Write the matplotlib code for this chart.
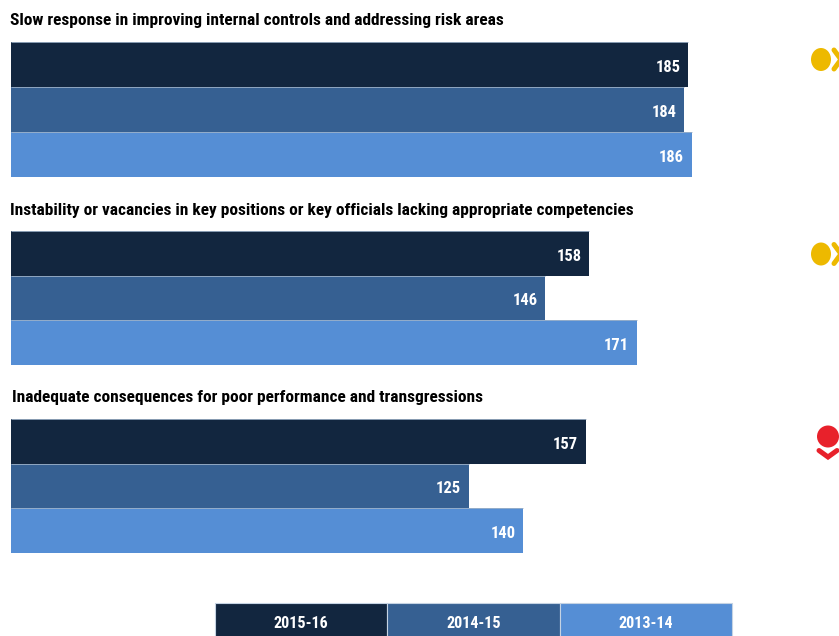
import matplotlib
matplotlib.use("Agg")
import matplotlib.pyplot as plt
from matplotlib.patches import Circle, Ellipse, Rectangle

W, H = 839, 636

years = ["2015-16", "2014-15", "2013-14"]
colors = ["#12263F", "#366092", "#558ED5"]
titles = [
    "Slow response in improving internal controls and addressing risk areas",
    "Instability or vacancies in key positions or key officials lacking appropriate competencies",
    "Inadequate consequences for poor performance and transgressions",
]
values_a = [185, 184, 186]
values_b = [158, 146, 171]
values_c = [157, 125, 140]

plt.rcParams["font.family"] = ["Roboto Condensed", "DejaVu Sans"]

fig = plt.figure(figsize=(W / 100, H / 100), dpi=100, facecolor="white")


def px_axes(x0, y0, x1, y1):
    return fig.add_axes([x0 / W, 1 - y1 / H, (x1 - x0) / W, (y1 - y0) / H])


def bar_panel(y0, y1, values):
    ax = px_axes(11, y0, 839, y1)
    ax.set_xlim(0, 828 / 3.66)
    ax.set_ylim(2.5, -0.5)
    ax.axis("off")
    ax.barh(range(3), values, height=1.0, color=colors, linewidth=0)
    # thin pale rule along the top of each bar
    for i, v in enumerate(values):
        ax.hlines(i - 0.5, 0, v, color="#9fb2c8", lw=0.6, clip_on=False)
        ax.annotate(str(v), (v, i + 0.03), xytext=(-5.5, 0), textcoords="offset points",
                    ha="right", va="center_baseline", color="white",
                    fontsize=11.9, fontweight="bold")


bar_panel(42, 177, values_a)
bar_panel(231, 365, values_b)
bar_panel(419, 553, values_c)

fig.text(10 / W, 1 - 25 / H, titles[0], fontsize=12.55, fontweight="bold")
fig.text(10 / W, 1 - 215 / H, titles[1], fontsize=12.55, fontweight="bold")
fig.text(12 / W, 1 - 402 / H, titles[2], fontsize=12.55, fontweight="bold")

# overlay in pixel coordinates for the status icons and the year key
ov = fig.add_axes([0, 0, 1, 1], facecolor="none")
ov.set_xlim(0, W)
ov.set_ylim(H, 0)
ov.axis("off")

YELLOW, RED = "#EDB900", "#E8212B"
for cy in (59.5, 254):
    ov.add_patch(Ellipse((821, cy), 20, 23, color=YELLOW, lw=0))
    ov.plot([834, 841, 834], [cy - 9.5, cy, cy + 9.5], color=YELLOW, lw=3.6,
            solid_capstyle="round", solid_joinstyle="miter")
ov.add_patch(Circle((828, 436.5), 11, color=RED, lw=0))
ov.plot([819, 828, 837], [450.5, 457, 450.5], color=RED, lw=3.6,
        solid_capstyle="round", solid_joinstyle="miter")

key_edges = [215, 387, 560, 732]
for i, year in enumerate(years):
    x0, x1 = key_edges[i], key_edges[i + 1]
    ov.add_patch(Rectangle((x0, 603), x1 - x0, 40, facecolor=colors[i],
                           edgecolor="#c5d3e3", lw=0.8))
    ov.text((x0 + x1) / 2, 623.5, year, color="white", ha="center", va="center",
            fontsize=11.6, fontweight="bold")

fig.savefig("out.png", dpi=100)
